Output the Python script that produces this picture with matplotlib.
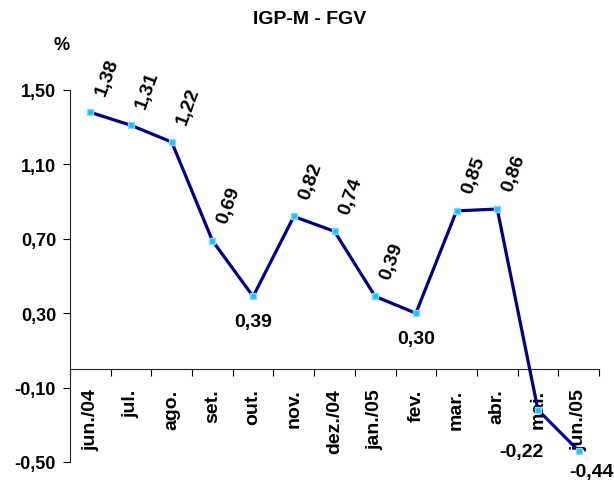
import matplotlib
matplotlib.use("Agg")
import matplotlib.pyplot as plt
from matplotlib.ticker import FixedLocator, FuncFormatter

plt.rcParams['font.family'] = ['Liberation Sans', 'DejaVu Sans']
plt.rcParams['font.weight'] = 'bold'

meses = ["jun./04", "jul.", "ago.", "set.", "out.", "nov.", "dez./04",
         "jan./05", "fev.", "mar.", "abr.", "mai.", "jun./05"]
igpm = [1.38, 1.31, 1.22, 0.69, 0.39, 0.82, 0.74, 0.39, 0.30, 0.85, 0.86, -0.22, -0.44]
yticks = [-0.50, -0.10, 0.30, 0.70, 1.10, 1.50]

# offsets dos rotulos (pontos); os que ficam abaixo do ponto sao horizontais
abaixo = {4: (0, -18), 8: (0, -18), 11: (-12, -30), 12: (9, -15)}

fig = plt.figure(figsize=(6.14, 4.81), dpi=100)
ax = fig.add_axes([70/614, 18/481, 529/614, 372/481])

# spine primeiro, senao os ticks sao resetados
ax.spines['bottom'].set_position(('data', 0))
ax.spines['top'].set_visible(False)
ax.spines['right'].set_visible(False)
for s in ['left', 'bottom']:
    ax.spines[s].set_linewidth(0.8)
    ax.spines[s].set_color('#222222')

x = list(range(len(meses)))
ax.plot(x, igpm, color='#000080', lw=2.3, marker='s', ms=5,
        mfc='#00CCFF', mec='#99CCFF', mew=1, zorder=3, clip_on=False)

for i, v in enumerate(igpm):
    txt = f"{v:.2f}".replace('.', ',')
    if i in abaixo:
        ax.annotate(txt, (i, v), xytext=abaixo[i], textcoords='offset points',
                    ha='center', va='center', fontsize=14, annotation_clip=False)
    else:
        ax.annotate(txt, (i, v), xytext=(12, 26), textcoords='offset points',
                    ha='center', va='center', rotation=70, rotation_mode='anchor',
                    fontsize=14, annotation_clip=False)

ax.set_xlim(-0.5, len(meses) - 0.5)
ax.set_ylim(-0.5, 1.5)
ax.set_yticks(yticks)
ax.yaxis.set_major_formatter(FuncFormatter(lambda v, p: f"{v:.2f}".replace('.', ',')))
ax.tick_params(axis='y', labelsize=13, length=5, width=0.8, pad=5)

ax.set_xticks(x)
ax.set_xticklabels(meses, rotation=90, fontsize=14, va='top', ha='center')
ax.xaxis.set_minor_locator(FixedLocator([i - 0.5 for i in range(len(meses) + 1)]))
ax.tick_params(axis='x', which='major', length=0, pad=14)
ax.tick_params(axis='x', which='minor', length=5, width=0.8, direction='out')

fig.text(310/614, 1 - 20/481, "IGP-M - FGV", ha='center', va='center', fontsize=14, fontweight='bold')
fig.text(62/614, 1 - 46/481, "%", ha='center', va='center', fontsize=13, fontweight='bold')

fig.savefig("out.png", dpi=100)
